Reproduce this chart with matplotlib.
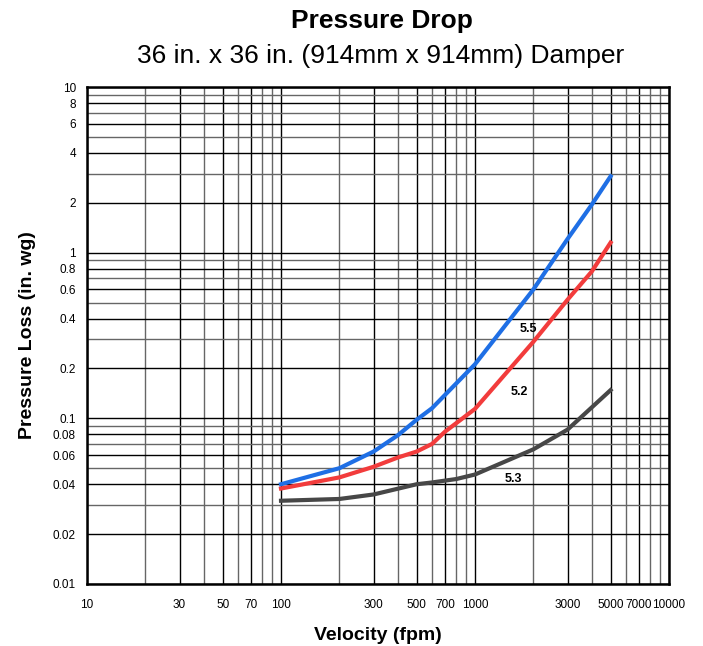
import numpy as np
import matplotlib.pyplot as plt
from matplotlib.ticker import FixedLocator, NullFormatter

plt.rcParams['font.family'] = ['Liberation Sans', 'DejaVu Sans']

# velocity (fpm) and pressure loss (in. wg)
vel_55 = [100, 200, 300, 400, 500, 600, 1000, 2000, 3000, 4000, 5000]
loss_55 = [0.040, 0.050, 0.063, 0.079, 0.098, 0.115, 0.212, 0.60, 1.21, 1.95, 2.89]

vel_52 = [100, 200, 300, 400, 500, 600, 700, 1000, 2000, 3000, 4000, 5000]
loss_52 = [0.0377, 0.044, 0.051, 0.058, 0.063, 0.070, 0.083, 0.114, 0.29, 0.52, 0.77, 1.15]

vel_53 = [100, 200, 300, 500, 600, 800, 1000, 2000, 3000, 5000]
loss_53 = [0.0318, 0.0326, 0.0347, 0.040, 0.041, 0.043, 0.0458, 0.065, 0.0855, 0.148]

x_ticks = [10, 30, 50, 70, 100, 300, 500, 700, 1000, 3000, 5000, 7000, 10000]
y_ticks = [0.01, 0.02, 0.04, 0.06, 0.08, 0.1, 0.2, 0.4, 0.6, 0.8, 1, 2, 4, 6, 8, 10]

fig = plt.figure(figsize=(7.03, 6.46), dpi=100)
ax = fig.add_axes([0.1238, 0.096, 0.8278, 0.7693])
ax.set_xscale('log')
ax.set_yscale('log')
ax.set_xlim(10, 10000)
ax.set_ylim(0.01, 10)

# grid: labelled lines black, the rest gray
x_all = [m * 10 ** e for e in range(1, 4) for m in range(1, 10)] + [10000]
y_all = [m * 10.0 ** e for e in range(-2, 1) for m in range(1, 10)] + [10]
for v in x_all:
    c = 'black' if v in x_ticks else '#666666'
    ax.axvline(v, color=c, lw=1.0, zorder=1)
for v in y_all:
    c = 'black' if any(abs(v - t) < 1e-9 for t in y_ticks) else '#666666'
    ax.axhline(v, color=c, lw=1.0, zorder=1)

ax.plot(vel_55, loss_55, color='#1f6fe5', lw=3, zorder=3)
ax.plot(vel_52, loss_52, color='#f23c3c', lw=3, zorder=3)
ax.plot(vel_53, loss_53, color='#474747', lw=3, zorder=3)

ax.text(1875, 0.348, '5.5', fontsize=9, fontweight='bold', ha='center', va='center', zorder=4)
ax.text(1686, 0.145, '5.2', fontsize=9, fontweight='bold', ha='center', va='center', zorder=4)
ax.text(1570, 0.0433, '5.3', fontsize=9, fontweight='bold', ha='center', va='center', zorder=4)

ax.xaxis.set_major_locator(FixedLocator(x_ticks))
ax.xaxis.set_minor_locator(FixedLocator([]))
ax.set_xticklabels([str(t) for t in x_ticks])
ax.yaxis.set_major_locator(FixedLocator(y_ticks))
ax.yaxis.set_minor_locator(FixedLocator([]))
ax.yaxis.set_minor_formatter(NullFormatter())
ax.set_yticklabels([('%g' % t) for t in y_ticks])
ax.tick_params(axis='both', length=0, labelsize=8.5)
ax.tick_params(axis='x', pad=11)
ax.tick_params(axis='y', pad=8)

for s in ax.spines.values():
    s.set_linewidth(1.8)
    s.set_zorder(5)

ax.set_xlabel('Velocity (fpm)', fontsize=14, fontweight='bold', labelpad=11)
ax.set_ylabel('Pressure Loss (in. wg)', fontsize=14, fontweight='bold', labelpad=12)

fig.text(0.543, 0.967, 'Pressure Drop', fontsize=19, fontweight='bold', ha='center', va='center')
fig.text(0.541, 0.914, '36 in. x 36 in. (914mm x 914mm) Damper', fontsize=19, ha='center', va='center')

fig.savefig('out.png', dpi=100)
